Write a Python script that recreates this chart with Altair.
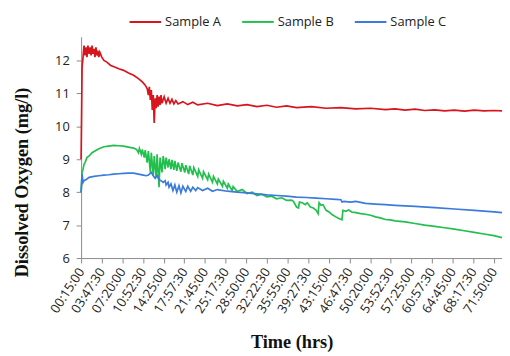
import altair as alt
import pandas as pd

# Category labels of the time axis (one label every 85 samples of 2.5 min)
time_labels = ["00:15:00", "03:47:30", "07:20:00", "10:52:30", "14:25:00", "17:57:30",
               "21:45:00", "25:17:30", "28:50:00", "32:22:30", "35:55:00", "39:27:30",
               "43:15:00", "46:47:30", "50:20:00", "53:52:30", "57:25:00", "60:57:30",
               "64:45:00", "68:17:30", "71:50:00"]
LABEL_STEP = 85

series_names = ["Sample A", "Sample B", "Sample C"]
series_colors = ["#d8141c", "#22bf4e", "#3b7bdb"]

# Sample A (sample index, dissolved oxygen mg/l)
a_step = [0, 4, 8, 12, 16, 20, 24, 28, 33, 37, 41, 45, 49, 53, 57, 61, 65, 69, 73, 77,
          85, 94, 106, 122, 138, 155, 175, 195, 216, 236, 252, 264, 272,
          277, 281, 285, 289, 293, 297, 301, 305, 309, 313, 317, 321, 325, 329, 333,
          342, 350, 358, 366, 374, 382, 390, 399,
          419, 439, 460, 480,
          521, 561, 602, 643, 683, 724, 765, 805, 846, 887,
          948, 1009, 1070, 1131, 1192, 1253,
          1293, 1334, 1375, 1415, 1456, 1497, 1537, 1578, 1619, 1659, 1700, 1733]
a_val = [9.0, 11.8, 12.1, 12.45, 12.15, 12.4, 12.1, 12.45, 12.2, 12.4, 12.15, 12.45, 12.2, 12.35, 12.1, 12.4, 12.15, 12.3, 12.1, 12.25,
         12.1, 12.0, 11.95, 11.85, 11.8, 11.75, 11.7, 11.62, 11.55, 11.45, 11.35, 11.25, 11.15,
         10.95, 11.2, 10.8, 11.1, 10.5, 10.95, 10.1, 10.85, 10.55, 10.95, 10.6, 10.9, 10.65, 10.95, 10.7,
         10.9, 10.7, 10.85, 10.7, 10.82, 10.68, 10.78, 10.68,
         10.75, 10.66, 10.73, 10.65,
         10.7, 10.63, 10.68, 10.62, 10.66, 10.6, 10.64, 10.58, 10.62, 10.57,
         10.6, 10.55, 10.57, 10.53, 10.55, 10.51,
         10.53, 10.49, 10.52, 10.48, 10.5, 10.47, 10.49, 10.46, 10.49, 10.47, 10.48, 10.47]

# Sample B
b_step = [0, 4, 8, 12, 16, 24, 33, 45, 57, 73, 94, 114, 134, 155, 175, 195, 216, 228,
          236, 240, 248, 252, 260, 264, 272, 277, 285, 289, 297, 301, 309, 313, 321, 325,
          333, 338, 346, 350, 358, 362, 370, 374, 382, 386, 394, 399, 411, 415, 427, 431,
          443, 447, 460, 464, 480, 484, 500, 504, 521, 525, 541, 545, 561, 565, 582, 586,
          602, 606, 622, 626, 643, 663, 683, 704, 724, 744, 765, 785, 805, 826, 846, 866,
          874, 887, 895, 899, 911, 923, 931, 944, 956, 968, 976, 980, 988, 996, 1009, 1021,
          1033, 1049, 1061, 1074, 1078, 1090, 1102, 1114, 1131, 1151, 1171, 1192, 1212, 1232,
          1253, 1273, 1293, 1334, 1375, 1415, 1456, 1497, 1537, 1578, 1619, 1659, 1700, 1733]
b_val = [8.0, 8.6, 8.7, 8.85, 8.9, 9.05, 9.1, 9.2, 9.25, 9.32, 9.38, 9.4, 9.42, 9.41, 9.4, 9.37, 9.34, 9.3,
         9.2, 9.33, 9.15, 9.3, 9.05, 9.28, 8.9, 9.25, 8.6, 9.2, 8.5, 9.1, 8.45, 9.15, 8.15, 9.05,
         8.6, 9.1, 8.7, 9.05, 8.75, 9.0, 8.7, 8.98, 8.68, 8.95, 8.65, 8.9, 8.62, 8.88, 8.6, 8.82,
         8.55, 8.8, 8.52, 8.75, 8.48, 8.68, 8.42, 8.62, 8.38, 8.55, 8.3, 8.48, 8.25, 8.4, 8.18, 8.33,
         8.12, 8.25, 8.05, 8.17, 8.02, 8.08, 7.96, 8.0, 7.9, 7.94, 7.86, 7.88, 7.8, 7.83, 7.75, 7.76,
         7.72, 7.55, 7.52, 7.7, 7.68, 7.62, 7.68, 7.55, 7.52, 7.45, 7.35, 7.68, 7.6, 7.62, 7.45, 7.4,
         7.32, 7.25, 7.2, 7.16, 7.45, 7.42, 7.46, 7.4, 7.38, 7.35, 7.33, 7.3, 7.25, 7.22,
         7.17, 7.16, 7.13, 7.1, 7.05, 7.0, 6.96, 6.92, 6.88, 6.83, 6.78, 6.73, 6.68, 6.62]

# Sample C
c_step = [0, 4, 8, 12, 24, 33, 53, 73, 94, 114, 134, 155, 175, 195, 216, 236, 256, 268,
          277, 289, 297, 305, 313, 321, 329, 338, 346, 350, 358, 362, 370, 378, 386, 394,
          403, 411, 419, 431, 439, 451, 460, 472, 480, 500, 521, 541, 561, 602, 643, 683,
          724, 765, 805, 846, 887, 927, 968, 1009, 1049, 1070, 1074, 1082, 1110, 1131, 1171,
          1212, 1253, 1293, 1375, 1456, 1537, 1619, 1700, 1733]
c_val = [8.0, 8.55, 8.3, 8.35, 8.4, 8.45, 8.48, 8.5, 8.52, 8.53, 8.55, 8.56, 8.57, 8.58, 8.58, 8.55, 8.52, 8.5,
         8.52, 8.6, 8.5, 8.42, 8.5, 8.38, 8.35, 8.3, 8.35, 8.22, 8.3, 8.15, 8.25, 8.05, 8.22, 8.0,
         8.2, 7.98, 8.18, 8.02, 8.18, 8.03, 8.15, 8.05, 8.14, 8.05, 8.12, 8.03, 8.08, 8.03, 8.0, 7.98,
         7.95, 7.92, 7.9, 7.88, 7.85, 7.84, 7.82, 7.8, 7.78, 7.77, 7.7, 7.72, 7.7, 7.72, 7.66,
         7.64, 7.62, 7.6, 7.57, 7.53, 7.49, 7.45, 7.4, 7.38]

rows = []
for name, xs, ys in zip(series_names, [a_step, b_step, c_step], [a_val, b_val, c_val]):
    assert len(xs) == len(ys), name
    for x, y in zip(xs, ys):
        rows.append({"series": name, "step": x, "value": y})
df = pd.DataFrame(rows)

label_js = "[" + ",".join("'%s'" % s for s in time_labels) + "]"
tick_vals = [i * LABEL_STEP for i in range(len(time_labels))]

AXIS_GRAY = "#8a8a8a"

chart = alt.Chart(df).mark_line(strokeWidth=1.7).encode(
    x=alt.X("step:Q",
            scale=alt.Scale(domain=[0, 1733], nice=False, zero=False),
            axis=alt.Axis(values=tick_vals,
                          labelExpr=label_js + "[round(datum.value / %d)]" % LABEL_STEP,
                          labelAngle=-57, labelAlign="right", labelBaseline="middle",
                          labelPadding=6, labelFlush=False, labelOverlap=False,
                          labelFont="Open Sans", labelFontSize=13, labelColor="#222222",
                          grid=False, tickSize=5, tickColor=AXIS_GRAY, domainColor=AXIS_GRAY,
                          title="Time (hrs)", titleFont="Liberation Serif", titleFontSize=18.5,
                          titleFontWeight="bold", titleColor="#111111",
                          titleY=91, titleBaseline="alphabetic")),
    y=alt.Y("value:Q",
            scale=alt.Scale(domain=[6, 12.72], nice=False, zero=False),
            axis=alt.Axis(values=[6, 7, 8, 9, 10, 11, 12], labelOverlap=False, labelFlush=False,
                          labelFont="Open Sans", labelFontSize=13, labelColor="#222222",
                          labelPadding=7, grid=False, tickSize=5, tickColor=AXIS_GRAY,
                          domainColor=AXIS_GRAY,
                          title="Dissolved Oxygen (mg/l)", titleFont="Liberation Serif",
                          titleFontSize=18.5, titleFontWeight="bold", titleColor="#111111",
                          titleAngle=270, titleX=-60, titleY=147, titleBaseline="middle",
                          titleAlign="center")),
    color=alt.Color("series:N",
                    scale=alt.Scale(domain=series_names, range=series_colors),
                    title=None,
                    legend=alt.Legend(orient="none", legendX=48, legendY=-32,
                                      direction="horizontal", symbolType="stroke",
                                      symbolSize=1024, symbolStrokeWidth=2,
                                      labelFont="Open Sans", labelFontSize=13,
                                      labelColor="#222222", labelOffset=3,
                                      columnPadding=17)),
).properties(
    width=426, height=224,
    padding={"left": 74, "top": 27, "right": 0, "bottom": 95},
    autosize=alt.AutoSizeParams(type="none"),
).configure_view(stroke=None)

chart.save("out.html", embed_options={"renderer": "svg", "actions": False})
